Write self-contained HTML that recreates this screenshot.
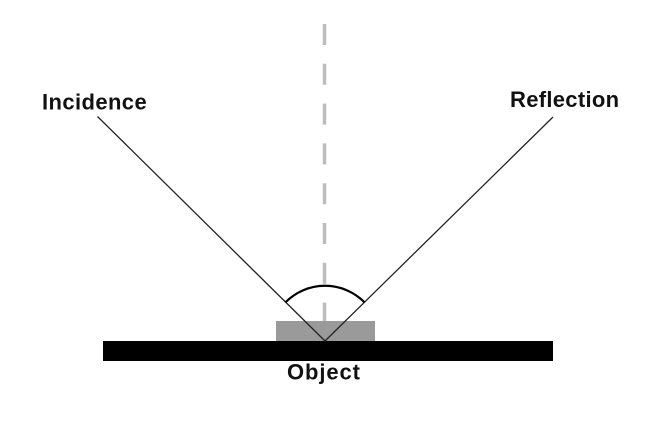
<!DOCTYPE html>
<html>
<head>
<meta charset="utf-8">
<style>
html,body{margin:0;padding:0;background:#fff;}
svg{display:block;}
text{font-family:"Liberation Sans",sans-serif;font-weight:bold;fill:#111;}
</style>
</head>
<body>
<svg width="650" height="433" viewBox="0 0 650 433" xmlns="http://www.w3.org/2000/svg">
<rect width="650" height="433" fill="#fff"/>
<!-- dashed normal -->
<line x1="324.5" y1="24" x2="324.5" y2="322" stroke="#bdbdbd" stroke-width="3.5" stroke-dasharray="21 18.8"/>
<!-- gray object -->
<rect x="276" y="321" width="99" height="21" fill="#9a9a9a"/>
<!-- black base -->
<rect x="103" y="341" width="450" height="20" fill="#000"/>
<!-- rays -->
<line x1="97.5" y1="116.5" x2="325" y2="341" stroke="#222" stroke-width="1.3"/>
<line x1="553" y1="117" x2="325" y2="341" stroke="#222" stroke-width="1.3"/>
<!-- arc -->
<path d="M 285.4 302.4 A 55.5 55.5 0 0 1 364.6 302.4" fill="none" stroke="#000" stroke-width="2.2"/>
<!-- labels -->
<text x="42" y="109.5" font-size="22" letter-spacing="0.4">Incidence</text>
<text x="510" y="107" font-size="22" letter-spacing="0.3">Reflection</text>
<text x="287" y="379.5" font-size="22" letter-spacing="0.9">Object</text>
</svg>
</body>
</html>
